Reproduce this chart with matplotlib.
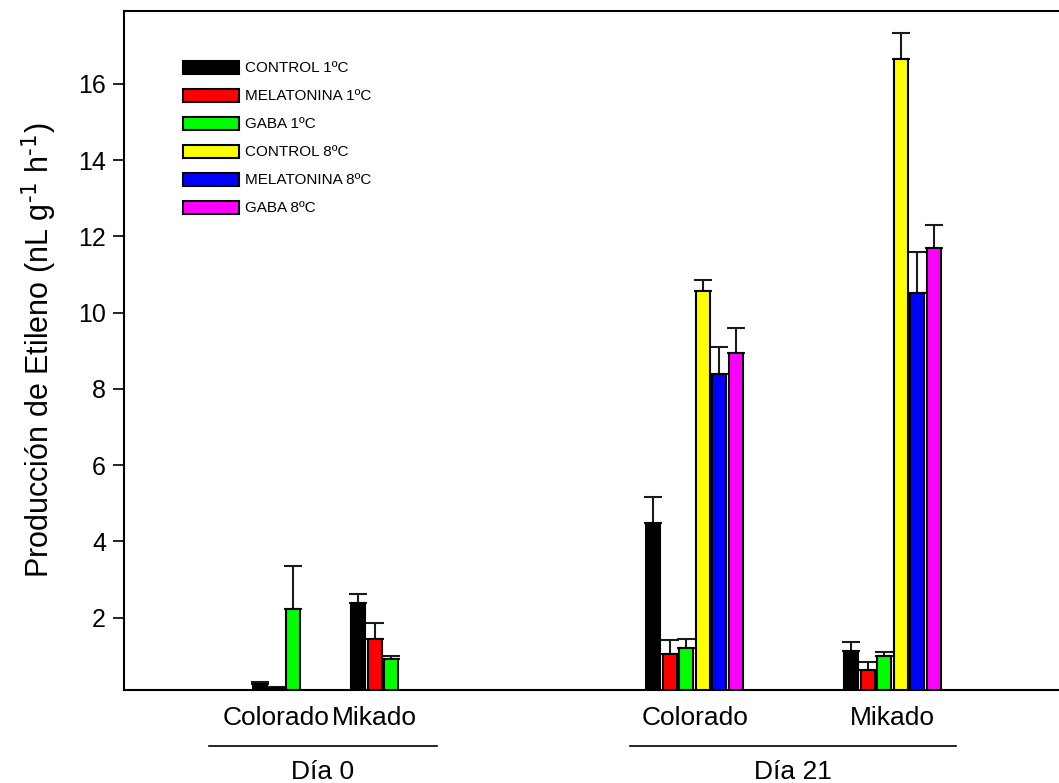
import numpy as np
import matplotlib
matplotlib.use("Agg")
import matplotlib.pyplot as plt
from matplotlib.transforms import blended_transform_factory

plt.rcParams['font.family'] = ['Liberation Sans', 'DejaVu Sans']

# Ethylene production (nL g-1 h-1), mean and SE per treatment
groups = ["Colorado", "Mikado", "Colorado", "Mikado"]
days = ["Día 0", "Día 21"]
treatments = ["CONTROL 1ºC", "MELATONINA 1ºC", "GABA 1ºC",
              "CONTROL 8ºC", "MELATONINA 8ºC", "GABA 8ºC"]
colours = ["black", "red", "#00ff00", "yellow", "blue", "magenta"]

# one row per group; day 0 has only the 1ºC treatments
means = [
    [0.25, 0.15, 2.22],
    [2.39, 1.43, 0.91],
    [4.49, 1.05, 1.20, 10.57, 8.38, 8.93],
    [1.11, 0.62, 0.99, 16.65, 10.52, 11.69],
]
errors = [
    [0.07, 0.02, 1.14],
    [0.23, 0.42, 0.08],
    [0.68, 0.35, 0.25, 0.29, 0.73, 0.66],
    [0.25, 0.22, 0.10, 0.68, 1.06, 0.61],
]

# layout, x in bar-step units
group_centres = [9.24, 15.2, 34.6, 46.6]
day_lines = [(5.15, 18.97), (30.67, 50.48)]
bar_w = 0.85

fig = plt.figure(figsize=(10.59, 7.83), dpi=100)
ax = fig.add_axes([124 / 1059, 1 - 690 / 783, 940 / 1059, (690 - 10.7) / 783])

for g, (vals, errs) in enumerate(zip(means, errors)):
    n = len(vals)
    xs = group_centres[g] + np.arange(n) - (n - 1) / 2
    for i in range(n):
        ax.bar(xs[i], vals[i], width=bar_w, color=colours[i], edgecolor="black",
               linewidth=1.5, bottom=0, zorder=2,
               label=treatments[i] if g == 2 else None)
        ax.errorbar(xs[i], vals[i], yerr=[[0], [errs[i]]], fmt="none",
                    ecolor="#1a1a1a", elinewidth=1.5, capsize=6.8, capthick=1.5,
                    zorder=1)

ax.set_xlim(0, 57)
ax.set_ylim(0.1, 17.92)
ax.set_yticks(np.arange(2, 17, 2))
ax.set_xticks([])
ax.tick_params(axis="y", direction="out", length=8, width=1.2, labelsize=18, pad=5)
ax.spines["right"].set_visible(False)
for s in ["left", "bottom", "top"]:
    ax.spines[s].set_linewidth(1.5)

ax.set_ylabel(r"Producción de Etileno (nL g$^{\text{-}1}$ h$^{\text{-}1}$)",
              fontsize=22, labelpad=14)

# category and day labels under the axis
tr = blended_transform_factory(ax.transData, fig.transFigure)
for x, name in zip(group_centres, groups):
    ax.text(x, 1 - 718 / 783, name, transform=tr, ha="center", va="center",
            fontsize=19)
for (x0, x1), day in zip(day_lines, days):
    ax.plot([x0, x1], [1 - 745.5 / 783] * 2, transform=tr, color="black",
            linewidth=1.2, clip_on=False)
    ax.text((x0 + x1) / 2, 1 - 772 / 783, day, transform=tr, ha="center",
            va="center", fontsize=19)

leg = ax.legend(loc="upper left", bbox_to_anchor=(175 / 1059, 1 - 53 / 783),
                bbox_transform=fig.transFigure, frameon=False, fontsize=11,
                handlelength=3.7, handleheight=0.95, labelspacing=0.86,
                handletextpad=0.4, borderpad=0)

fig.savefig("out.png", dpi=100)
